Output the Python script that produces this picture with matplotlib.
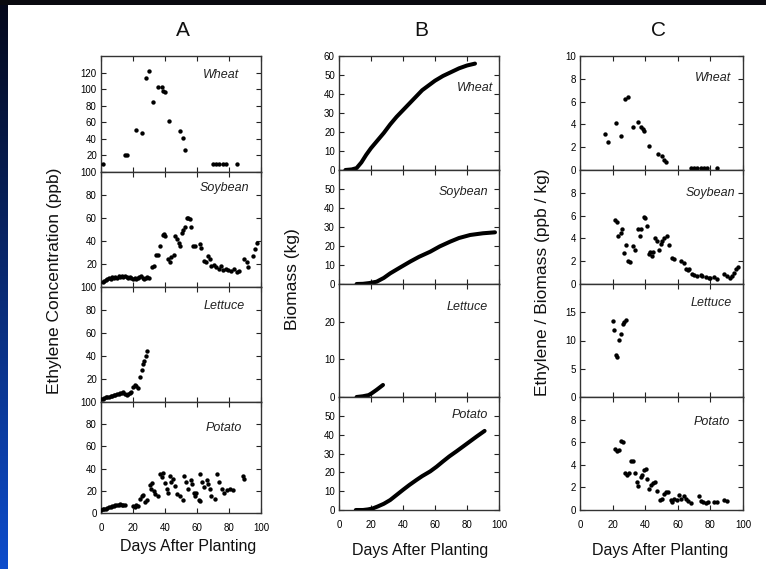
import matplotlib.pyplot as plt
import numpy as np

plt.rcParams['font.family'] = ['Liberation Sans', 'DejaVu Sans']

crops = ['Wheat', 'Soybean', 'Lettuce', 'Potato']

# A: ethylene concentration (ppb)
wheat_eth_day = [1, 15, 16.5, 22, 25.5, 28, 30, 32.5, 35.5, 38, 39, 40, 42.5, 49.5, 51, 52.5,
                 70, 72, 74, 76, 78, 85]
wheat_eth_val = [10, 21, 21, 51, 47, 113, 122, 84, 102, 103, 98, 96, 61, 49, 41, 26,
                 10, 10, 10, 10, 10, 10]

soy_eth_day = [1, 2, 3, 4, 5, 6, 7, 8, 9, 10, 11, 12, 13, 14, 15, 16, 17, 18, 19, 20, 21, 22,
               23, 24, 25, 26, 27, 28, 29, 30, 31.7, 33, 34.5, 35.5, 37, 38.5, 39.5, 40, 42, 43,
               44, 45.5, 46.5, 47.5, 48.5, 49.5, 50.5, 51.5, 52.5, 53.5, 54.5, 55.5, 56.5, 57.7,
               59, 61.9, 62.8, 64.4, 65.5, 67, 68, 69, 70.5, 72, 73.5, 75, 76.5, 78, 79.5, 81,
               83, 85, 86.5, 89.5, 91, 92, 95, 96, 97.5]
soy_eth_val = [4, 5, 6, 7, 8, 7, 9, 8, 9, 8, 10, 9, 10, 9, 10, 9, 8, 9, 8, 7, 8, 7,
               8, 9, 10, 8, 7, 8, 9, 8, 17, 18, 28, 28, 36, 45, 46, 44, 24, 22,
               26, 28, 44, 42, 38, 36, 47, 50, 52, 60, 60, 59, 52, 36,
               36, 37, 34, 23, 22, 27, 24, 18, 19, 17, 16, 18, 15, 16, 15, 14,
               16, 13, 14, 24, 22, 17, 27, 33, 38]

let_eth_day = [0, 1, 2, 3, 4, 5, 6, 7, 8, 9, 10, 11, 12, 13, 14, 15, 16, 17, 18, 19, 20, 21,
               22, 23, 24.4, 25.4, 26, 27.1, 27.9, 28.6]
let_eth_val = [3, 3, 3.5, 4, 4, 4.5, 5, 5, 6, 6, 7, 7, 8, 8, 9, 7, 6, 7, 8, 9, 13, 15,
               14, 12, 22, 28, 33, 36, 40, 44]

pot_eth_day = [0, 1, 2, 3, 4, 5, 6, 7, 8, 9, 10, 11, 12, 13, 14, 15, 20, 21, 22, 23,
               24.5, 25.5, 26.5, 27.5, 28.5, 30.5, 31.5, 32, 33, 34, 35.5, 37, 38, 39, 40, 41,
               42, 43, 44, 45, 46, 47.5, 49.5, 51, 52, 53, 54.5, 56, 57, 58, 59, 59.5, 61, 62,
               62, 63, 64.5, 66, 67, 68, 69, 71, 72.5, 74, 75.5, 77, 78.5, 80.5, 82.5, 88.5, 89.5]
pot_eth_val = [3, 3.5, 4, 4, 4.5, 5, 5.5, 6, 6, 7, 7, 7.5, 8, 7.5, 7, 7, 6, 5.5, 7, 6,
               13, 15, 16, 10, 12, 25, 22, 27, 20, 17, 15, 35, 32, 36, 27, 22,
               18, 33, 28, 31, 24, 17, 15, 12, 33, 28, 22, 30, 26, 18, 15, 18, 12, 11,
               35, 28, 23, 30, 26, 22, 15, 13, 35, 28, 22, 18, 21, 22, 21, 33, 31]

# B: biomass (kg)
wheat_bio_day = [4, 8, 11, 14, 17, 20, 24, 28, 32, 36, 40, 44, 48, 52, 56, 60, 65, 70, 75,
                 80, 85]
wheat_bio_val = [0, 0.3, 1, 4, 8, 11.5, 15.5, 19.5, 24, 28, 31.5, 35, 38.5, 42, 44.5, 47,
                 49.5, 51.5, 53.5, 55, 56]
soy_bio_day = [11, 15, 19, 23.5, 28, 32, 38, 44.5, 50, 57, 63, 69.5, 75, 82, 90, 97.5]
soy_bio_val = [0, 0.1, 0.5, 1.2, 3.2, 5.6, 8.6, 11.8, 14.3, 17, 19.8, 22.3, 24.2, 25.8,
               26.7, 27.2]
let_bio_day = [11, 15, 18.5, 20.5, 23.5, 27.5]
let_bio_val = [0, 0.2, 0.5, 1, 1.9, 3.2]
pot_bio_day = [10.5, 15, 18, 21, 24, 28, 32, 36, 40, 44, 48.5, 52, 57, 61, 65, 69, 73.5,
               78, 82, 86, 91]
pot_bio_val = [0, 0, 0.3, 0.8, 1.8, 3.3, 5.3, 8, 10.7, 13.3, 16, 18, 20.5, 23, 25.8, 28.5,
               31.2, 34, 36.5, 39, 42]

# C: ethylene / biomass (ppb / kg)
wheat_rat_day = [15.3, 17, 22, 25.2, 27.8, 29.3, 32.3, 35.4, 37.4, 38.5, 39.2, 42.1, 48, 50,
                 51.5, 52.6, 68, 70, 72, 74, 76, 78, 84]
wheat_rat_val = [3.2, 2.5, 4.1, 3.0, 6.2, 6.4, 3.8, 4.2, 3.8, 3.6, 3.4, 2.1, 1.4, 1.2,
                 0.9, 0.7, 0.2, 0.2, 0.2, 0.2, 0.2, 0.2, 0.2]
soy_rat_day = [21.7, 22.7, 23.5, 25, 26, 26.8, 28.2, 29.3, 30.8, 32.3, 33.8, 35.4, 37, 37.4,
               39, 40, 41, 42.1, 43, 44, 45, 46, 47.2, 48.6, 49.6, 50.6, 51.7, 53.1, 54.7,
               56.7, 57.8, 61.9, 63.5, 65, 66, 67, 69, 70, 72, 74, 75, 77, 79, 80, 82, 84,
               88.6, 90.3, 92.3, 93.4, 94.4, 95.4, 96.8]
soy_rat_val = [5.6, 5.4, 4.2, 4.5, 4.8, 2.7, 3.4, 2.0, 1.9, 3.3, 3.0, 4.8, 4.2, 4.8,
               5.9, 5.8, 5.1, 2.6, 2.8, 2.5, 2.8, 4.0, 3.8, 3.0, 3.5, 3.8, 4.0, 4.2, 3.4,
               2.3, 2.2, 2.0, 1.8, 1.3, 1.2, 1.3, 0.9, 0.8, 0.7, 0.8, 0.7, 0.6, 0.5, 0.5, 0.6, 0.4,
               0.9, 0.7, 0.5, 0.7, 1.0, 1.3, 1.5]
let_rat_day = [20, 21, 22, 23, 24, 25, 26.2, 27.2, 28.2]
let_rat_val = [13.5, 11.9, 7.4, 7.1, 10.1, 11.2, 13.0, 13.2, 13.6]
pot_rat_day = [21.5, 22.7, 24, 25.2, 26.2, 27.6, 28.8, 29.9, 31.3, 32.8, 33.7, 35, 35.8, 37.3,
               38.3, 39.3, 40.4, 41.4, 42.4, 43.4, 44.5, 45.9, 47.5, 49.2, 50.6, 51.6, 53, 54,
               55.7, 56.7, 57.7, 59.4, 60.8, 61.9, 63.5, 65, 66, 68, 73.1, 74.1, 75.5, 77.1,
               78.6, 82.3, 84, 88.6, 90.3]
pot_rat_val = [5.4, 5.2, 5.3, 6.1, 6.0, 3.3, 3.1, 3.3, 4.3, 4.3, 3.3, 2.5, 2.1, 2.9,
               3.1, 3.5, 3.6, 2.7, 1.9, 2.2, 2.4, 2.5, 1.7, 0.9, 1.0, 1.4, 1.6, 1.6,
               0.9, 0.7, 1.0, 0.9, 1.3, 1.0, 1.2, 1.0, 0.8, 0.6, 1.2, 0.8, 0.7, 0.6,
               0.7, 0.7, 0.7, 0.9, 0.8]

W, H = 766, 569
fig = plt.figure(figsize=(W / 100, H / 100), dpi=100)
fig.patch.set_facecolor('white')

# dark frame of the original slide
strip = fig.add_axes([0, 0, 8 / W, 1])
grad = np.linspace(0, 1, 200).reshape(-1, 1, 1)
top_c = np.array([0.02, 0.03, 0.10])
bot_c = np.array([0.05, 0.30, 0.80])
strip.imshow(top_c + grad * (bot_c - top_c), aspect='auto')
strip.axis('off')
band = fig.add_axes([0, 1 - 5 / H, 1, 5 / H])
band.set_facecolor('#0a0a10')
band.set_xticks([])
band.set_yticks([])
for s in band.spines.values():
    s.set_visible(False)


def px_axes(x0, y0, x1, y1):
    return fig.add_axes([x0 / W, 1 - y1 / H, (x1 - x0) / W, (y1 - y0) / H])


columns = [
    dict(x=(101, 261), rows=[(56, 172), (172, 287), (287, 402), (402, 513)],
         ylims=[140, 100, 100, 100],
         yticks=[range(20, 121, 20), range(20, 101, 20), range(20, 101, 20), range(0, 101, 20)],
         data=[(wheat_eth_day, wheat_eth_val), (soy_eth_day, soy_eth_val),
               (let_eth_day, let_eth_val), (pot_eth_day, pot_eth_val)],
         kind='scatter',
         names=[(239, 75), (249, 188), (245, 306), (242, 428)]),
    dict(x=(339, 499), rows=[(56, 170), (170, 284), (284, 397), (397, 510)],
         ylims=[60, 60, 30, 60],
         yticks=[range(0, 61, 10), range(0, 51, 10), range(0, 21, 10), range(0, 51, 10)],
         data=[(wheat_bio_day, wheat_bio_val), (soy_bio_day, soy_bio_val),
               (let_bio_day, let_bio_val), (pot_bio_day, pot_bio_val)],
         kind='line',
         names=[(493, 88), (488, 192), (488, 307), (488, 415)]),
    dict(x=(580, 743), rows=[(56, 170), (170, 284), (284, 397), (397, 510)],
         ylims=[10, 10, 20, 10],
         yticks=[range(0, 11, 2), range(0, 9, 2), range(0, 16, 5), range(0, 9, 2)],
         data=[(wheat_rat_day, wheat_rat_val), (soy_rat_day, soy_rat_val),
               (let_rat_day, let_rat_val), (pot_rat_day, pot_rat_val)],
         kind='scatter',
         names=[(731, 78), (735, 193), (732, 303), (730, 422)]),
]

for col in columns:
    x0, x1 = col['x']
    for i, (y0, y1) in enumerate(col['rows']):
        ax = px_axes(x0, y0, x1, y1)
        days, vals = col['data'][i]
        if col['kind'] == 'scatter':
            ax.scatter(days, vals, s=10, color='black', linewidths=0, zorder=3)
        else:
            ax.plot(days, vals, color='black', lw=2.9, solid_capstyle='round',
                    solid_joinstyle='round', zorder=3)
        ax.set_xlim(0, 100)
        ax.set_ylim(0, col['ylims'][i])
        ax.set_xticks(range(0, 101, 20))
        ax.set_yticks(list(col['yticks'][i]))
        ax.tick_params(direction='in', top=True, right=True, length=3.5, width=0.8,
                       labelsize=7, pad=3, colors='#222222', labelcolor='black')
        if i < 3:
            ax.tick_params(labelbottom=False)
        else:
            ax.tick_params(axis='x', pad=7)
        for s in ax.spines.values():
            s.set_linewidth(1.0)
            s.set_color('#333333')
        nx, ny = col['names'][i]
        fig.text(nx / W, 1 - ny / H, crops[i], ha='right', va='center',
                 fontsize=9, style='italic', color='#222222')

for letter, cx in zip(['A', 'B', 'C'], [183, 421, 659]):
    fig.text(cx / W, 1 - 31 / H, letter, ha='center', va='center', fontsize=15, color='#111111')

for cx, cy in [(188, 547), (420, 551), (660, 551)]:
    fig.text(cx / W, 1 - cy / H, 'Days After Planting', ha='center', va='center',
             fontsize=11.5, color='#111111')

ylabels = ['Ethylene Concentration (ppb)', 'Biomass (kg)', 'Ethylene / Biomass (ppb / kg)']
for lab, cx, cy in zip(ylabels, [55, 292, 542], [281, 279, 282]):
    fig.text(cx / W, 1 - cy / H, lab, rotation=90, ha='center', va='center',
             fontsize=12.5, color='#111111')

fig.savefig('out.png', dpi=100)
